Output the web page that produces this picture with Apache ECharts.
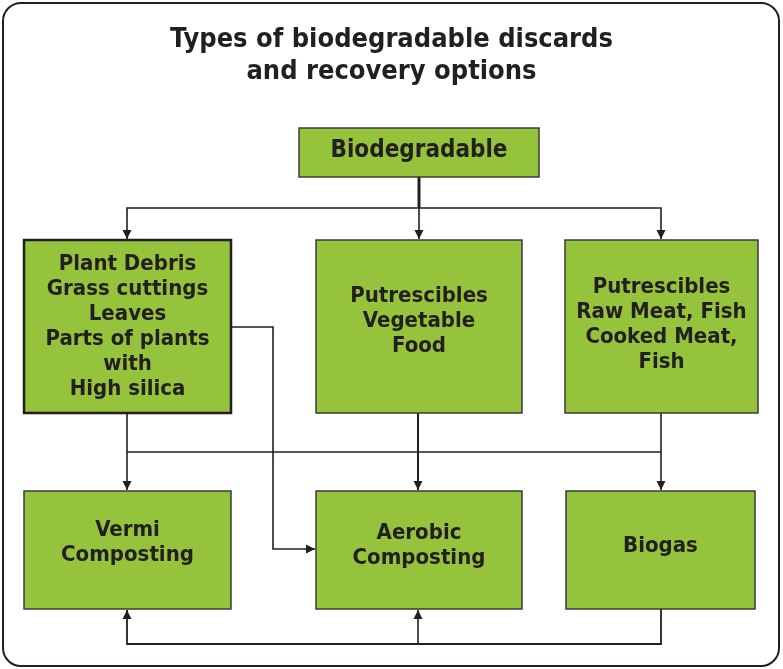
<!DOCTYPE html>
<html>
<head>
<meta charset="utf-8">
<script src="https://cdn.jsdelivr.net/npm/echarts@6/dist/echarts.min.js"></script>
<style>
  html, body { margin: 0; padding: 0; background: #fff; }
  #main { width: 783px; height: 669px; }
</style>
</head>
<body>
<div id="main"></div>
<script>
// boxes: label lines + [x0, y0, x1, y1] in diagram units (page px)
var nodeLabels = [
    ['Biodegradable'],
    ['Plant Debris', 'Grass cuttings', 'Leaves', 'Parts of plants', 'with', 'High silica'],
    ['Putrescibles', 'Vegetable', 'Food'],
    ['Putrescibles', 'Raw Meat, Fish', 'Cooked Meat,', 'Fish'],
    ['Vermi', 'Composting'],
    ['Aerobic', 'Composting'],
    ['Biogas']
];
var nodeRects = [
    [299, 128, 539, 177],
    [24, 240, 231, 413],
    [316, 240, 522, 413],
    [565, 240, 758, 413],
    [24, 491, 231, 609],
    [316, 491, 522, 609],
    [566, 491, 755, 609]
];
var nodeThick = [false, true, false, false, false, false, false];
// text tweaks per box
var nodeFontSize = [24, 22, 22, 22, 22, 22, 22];
var nodeTextShift = [-2, 0, -5, -2, -7, -4, -4];

// connector paths, arrow at the last point when arrowed
var linkPaths = [
    [[419, 177], [419, 208]],
    [[419, 208], [419, 239]],
    [[419, 208], [127, 208], [127, 239]],
    [[419, 208], [661, 208], [661, 239]],
    [[127, 413], [127, 490]],
    [[418, 413], [418, 490]],
    [[661, 413], [661, 490]],
    [[231, 327], [273, 327], [273, 549], [315, 549]],
    [[661, 609], [661, 644], [127, 644], [127, 610]],
    [[418, 644], [418, 610]],
    [[127, 452], [661, 452]]
];
var linkArrow = [false, true, true, true, true, true, true, true, true, true, false];
var linkWidth = [3, 1.6, 1.6, 1.6, 1.6, 2, 1.6, 1.6, 1.8, 1.6, 1.6];

var dom = document.getElementById('main');
var myChart = echarts.init(dom);

var fontName = '"DejaVu Sans Condensed", "Liberation Sans", sans-serif';

var boxData = nodeRects.map(function (r, i) {
    return { value: r, label: nodeLabels[i].join('\n'), thick: nodeThick[i],
             size: nodeFontSize[i], shift: nodeTextShift[i] };
});
var linkData = linkPaths.map(function (p, i) {
    return { value: [p[0][0], p[0][1]], path: p, arrow: linkArrow[i], width: linkWidth[i] };
});

var option = {
    animation: false,
    title: {
        text: 'Types of biodegradable discards\nand recovery options',
        left: 'center',
        top: 19,
        textStyle: {
            fontFamily: fontName,
            fontSize: 27,
            fontWeight: 'bold',
            color: '#231f20',
            lineHeight: 32
        }
    },
    graphic: [{
        type: 'rect',
        shape: { x: 3, y: 3, width: 776, height: 663, r: 18 },
        style: { fill: 'none', stroke: '#231f20', lineWidth: 2 },
        z: 0
    }],
    grid: { left: 0, right: 0, top: 0, bottom: 0 },
    xAxis: { type: 'value', min: 0, max: 783, show: false },
    yAxis: { type: 'value', min: 0, max: 669, inverse: true, show: false },
    series: [
        {
            type: 'custom',
            coordinateSystem: 'cartesian2d',
            encode: { x: [0, 2], y: [1, 3] },
            data: boxData,
            z: 5,
            renderItem: function (params, api) {
                var item = boxData[params.dataIndex];
                var p0 = api.coord([api.value(0), api.value(1)]);
                var p1 = api.coord([api.value(2), api.value(3)]);
                var w = p1[0] - p0[0], h = p1[1] - p0[1];
                return {
                    type: 'group',
                    children: [{
                        type: 'rect',
                        shape: { x: p0[0], y: p0[1], width: w, height: h },
                        style: {
                            fill: '#95c33c',
                            stroke: item.thick ? '#231f20' : '#3b3b3b',
                            lineWidth: item.thick ? 2.5 : 1.5
                        }
                    }, {
                        type: 'text',
                        x: p0[0] + w / 2,
                        y: p0[1] + h / 2 + item.shift,
                        style: {
                            text: item.label,
                            align: 'center',
                            verticalAlign: 'middle',
                            fontFamily: fontName,
                            fontWeight: 'bold',
                            fontSize: item.size,
                            lineHeight: 25,
                            fill: '#231f20'
                        }
                    }]
                };
            }
        },
        {
            type: 'custom',
            coordinateSystem: 'cartesian2d',
            data: linkData,
            z: 3,
            renderItem: function (params, api) {
                var item = linkData[params.dataIndex];
                var pts = item.path.map(function (c) { return api.coord(c); });
                var children = [{
                    type: 'polyline',
                    shape: { points: pts },
                    style: { stroke: '#231f20', lineWidth: item.width, fill: null }
                }];
                if (item.arrow) {
                    var a = pts[pts.length - 2], b = pts[pts.length - 1];
                    var dx = b[0] - a[0], dy = b[1] - a[1];
                    var len = Math.sqrt(dx * dx + dy * dy);
                    dx /= len; dy /= len;
                    var L = 9, W = 4.5;
                    var bx = b[0] - dx * L, by = b[1] - dy * L;
                    children.push({
                        type: 'polygon',
                        shape: { points: [b, [bx - dy * W, by + dx * W], [bx + dy * W, by - dx * W]] },
                        style: { fill: '#231f20' }
                    });
                }
                return { type: 'group', children: children };
            }
        }
    ]
};
if (option && typeof option === "object") {
    myChart.setOption(option, true);
}
</script>
</body>
</html>
